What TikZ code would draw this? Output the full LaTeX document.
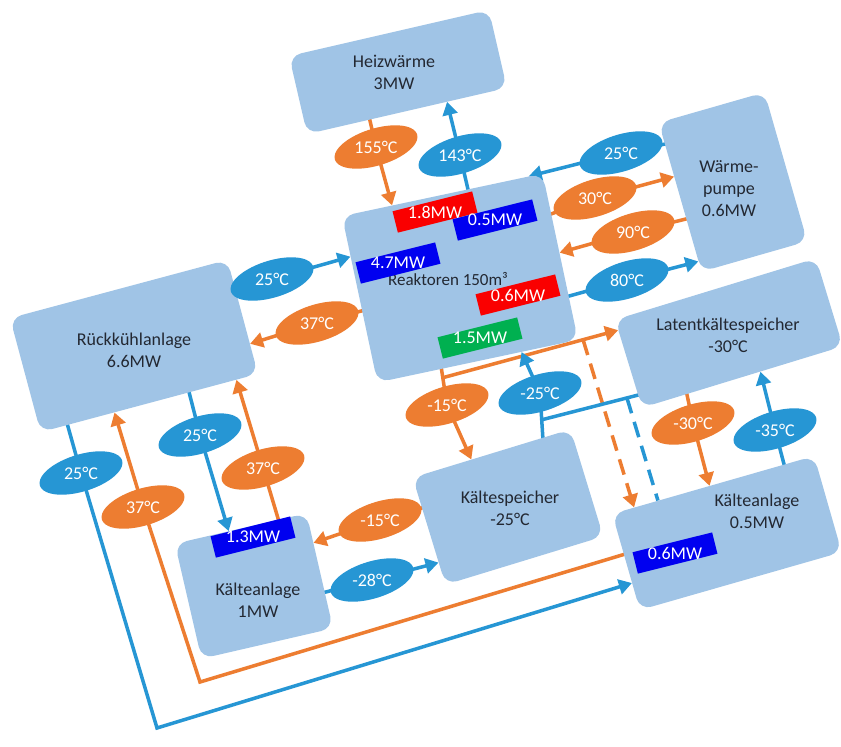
\documentclass[tikz,border=0pt]{standalone}
\usepackage{fontspec}
\setmainfont{Carlito}
\usetikzlibrary{arrows.meta,calc,shapes.geometric}
\definecolor{boxblue}{RGB}{160,196,230}
\definecolor{oran}{RGB}{237,125,49}
\definecolor{cblue}{RGB}{38,150,212}
\definecolor{rblue}{RGB}{0,0,240}
\definecolor{rred}{RGB}{250,0,0}
\definecolor{rgreen}{RGB}{0,176,80}
\definecolor{txt}{RGB}{35,40,50}
\pgfdeclarelayer{bg}
\pgfdeclarelayer{lines}
\pgfsetlayers{bg,lines,main}
\tikzset{
  box/.style={rectangle, rounded corners=12pt, fill=boxblue, text=txt, align=center,
    font=\fontsize{18}{22}\selectfont, inner sep=0pt},
  boxtext/.style={text=txt, align=center, font=\fontsize{18}{22}\selectfont, inner sep=0pt},
  temptext/.style={inner sep=0pt, text=white, font=\fontsize{18}{20}\selectfont},
  pwtext/.style={inner sep=0pt, text=white, font=\fontsize{18}{20}\selectfont},
  oline/.style={draw=oran, line width=3.5pt, -{Triangle[length=13pt,width=15pt]}},
  bline/.style={draw=cblue, line width=3.5pt, -{Triangle[length=13pt,width=15pt]}},
  oplain/.style={draw=oran, line width=3.5pt},
  bplain/.style={draw=cblue, line width=3.5pt},
  dashline/.style={dash pattern=on 16pt off 9pt},
}
% tilted ellipse drawn from computed points, with its text node
\newcommand\tempell[5]{%
  \fill[#4] plot[smooth cycle, samples=40, domain=0:351, variable=\ang]
    ({#2+43*cos(\ang)*cos(17)-18.5*sin(\ang)*sin(17)},
     {#3-43*cos(\ang)*sin(17)-18.5*sin(\ang)*cos(17)});
  \node[temptext] (#1) at (#2,#3) {#5};
}
% tilted power label rectangle, with its text node
\newcommand\pwlabel[5]{%
  \fill[#4] ($(#2,#3)+(-14:41)+(-104:11)$) -- ($(#2,#3)+(-14:41)+(76:11)$)
    -- ($(#2,#3)+(166:41)+(76:11)$) -- ($(#2,#3)+(166:41)+(-104:11)$) -- cycle;
  \node[pwtext] (#1) at (#2,#3) {#5};
}
\begin{document}
\begin{tikzpicture}[x=1pt,y=-1pt]
\begin{pgfonlayer}{bg}
\fill[white] (0,0) rectangle (841,747);
\end{pgfonlayer}
\useasboundingbox (0,0) rectangle (841,747);

% boxes
\node[box, minimum width=205pt, minimum height=80pt, rotate=13] (heiz) at (398,72) {};
\node[box, minimum width=205pt, minimum height=170pt, rotate=12] (reak) at (460,278) {};
\node[box, minimum width=110pt, minimum height=155pt, rotate=16] (wp) at (733,182) {};
\node[box, minimum width=210pt, minimum height=92pt, rotate=17] (lat) at (729,333) {};
\node[box, minimum width=225pt, minimum height=118pt, rotate=15] (rueck) at (134,346) {};
\node[box, minimum width=165pt, minimum height=112pt, rotate=17] (ksp) at (508,507) {};
\node[box, minimum width=210pt, minimum height=100pt, rotate=16] (ka05) at (727,533) {};
\node[box, minimum width=135pt, minimum height=118pt, rotate=13] (ka1) at (254,586) {};

% box texts
\node[boxtext] (heiztxt) at (394,72) {Heizwärme\\3MW};
\node[boxtext, font=\fontsize{17}{20}\selectfont] (reaktxt) at (448,279) {Reaktoren 150m³};
\node[boxtext] (wptxt) at (729,189) {Wärme-\\pumpe\\0.6MW};
\node[boxtext] (lattxt) at (728,335) {Latentkältespeicher\\-30°C};
\node[boxtext] (ruecktxt) at (134,350) {Rückkühlanlage\\6.6MW};
\node[boxtext] (ksptxt) at (510,508) {Kältespeicher\\-25°C};
\node[boxtext] (ka05txt) at (757,511) {Kälteanlage\\0.5MW};
\node[boxtext] (ka1txt) at (258,600) {Kälteanlage\\1MW};

% power labels
\pwlabel{p18}{435}{212}{rred}{1.8MW}
\pwlabel{p05}{495}{220}{rblue}{0.5MW}
\pwlabel{p47}{398}{263}{rblue}{4.7MW}
\pwlabel{p06}{518}{295}{rred}{0.6MW}
\pwlabel{p15}{480}{338}{rgreen}{1.5MW}
\pwlabel{p13}{253}{537}{rblue}{1.3MW}
\pwlabel{p06b}{675}{553}{rblue}{0.6MW}

% temperature ellipses
\tempell{e155}{376}{147}{oran}{155°C}
\tempell{e143}{460}{155}{cblue}{143°C}
\tempell{e25a}{621}{153}{cblue}{25°C}
\tempell{e30}{595}{198}{oran}{30°C}
\tempell{e90}{633}{232}{oran}{90°C}
\tempell{e80}{627}{280}{cblue}{80°C}
\tempell{e25b}{272}{279}{cblue}{25°C}
\tempell{e37a}{317}{323}{oran}{37°C}
\tempell{e25m}{200}{435}{cblue}{25°C}
\tempell{e37m}{263}{468}{oran}{37°C}
\tempell{e25l}{81}{473}{cblue}{25°C}
\tempell{e37l}{143}{507}{oran}{37°C}
\tempell{e15k}{380}{520}{oran}{-15°C}
\tempell{e28}{372}{580}{cblue}{-28°C}
\tempell{e15r}{447}{405}{oran}{-15°C}
\tempell{e25k}{540}{393}{cblue}{-25°C}
\tempell{e30l}{693}{423}{oran}{-30°C}
\tempell{e35}{775}{430}{cblue}{-35°C}

% attachment points
\coordinate (T1) at ($(reak.north west)!0.25!(reak.north east)$);
\coordinate (T2) at ($(heiz.south west)!0.70!(heiz.south east)$);
\coordinate (T3) at ($(reak.north west)!0.93!(reak.north east)$);
\coordinate (T4) at ($(wp.north west)!0.362!(wp.south west)$);
\coordinate (T5) at ($(reak.north east)!0.476!(reak.south east)$);
\coordinate (T6) at ($(wp.north west)!0.93!(wp.south west)$);
\coordinate (T7) at ($(reak.north west)!0.244!(reak.south west)$);
\coordinate (T8) at ($(rueck.north east)!0.736!(rueck.south east)$);
\coordinate (T9) at ($(rueck.south west)!0.34!(rueck.south east)$);
\coordinate (T10) at ($(ka1.north west)!0.409!(ka1.north east)$);
\coordinate (T11) at ($(rueck.south west)!0.90!(rueck.south east)$);
\coordinate (T12) at ($(ka1.north east)!0.258!(ka1.south east)$);
\coordinate (T13) at ($(ksp.north west)!0.792!(ksp.south west)$);
\coordinate (T14) at ($(lat.north west)!0.12!(lat.south west)$);
\coordinate (T15) at ($(ksp.north west)!0.372!(ksp.north east)$);
\coordinate (T16) at ($(reak.south west)!0.718!(reak.south east)$);
\coordinate (T17) at ($(ka05.north west)!0.109!(ka05.north east)$);
\coordinate (T17b) at ($(ka05.north west)!0.227!(ka05.north east)$);
\coordinate (T18) at ($(ka05.north west)!0.482!(ka05.north east)$);
\coordinate (T19) at ($(lat.south west)!0.589!(lat.south east)$);
\coordinate (T20) at ($(ka05.north west)!0.718!(ka05.south west)$);

\coordinate (S1) at (368,112);
\coordinate (S2) at (470,198);
\coordinate (S3) at (680,141);
\coordinate (S4) at (540,218);
\coordinate (S5) at (690,218);
\coordinate (S6) at (562,298);
\coordinate (S7) at (228,292);
\coordinate (S8) at (365,310);
\coordinate (S9) at (188,388);
\coordinate (S10) at (280,525);
\coordinate (S11) at (432,505);
\coordinate (S12) at (322,593);
\coordinate (S13) at (441,366);
\coordinate (S14) at (543,440);
\coordinate (S15) at (650,392);
\coordinate (S16) at (686,390);
\coordinate (S17) at (785,468);
\coordinate (S18) at (632,552);
\coordinate (S19) at (65,416);
\coordinate (C1) at (200,682);
\coordinate (C2) at (157,728);
\coordinate (J1) at ($(S13)!0.3!(e15r.center)$);
\coordinate (J2) at ($(S14)!0.43!(e25k.center)$);
\coordinate (D1) at ($(J1)!0.8!(T14)$);
\coordinate (D2) at ($(J2)!0.787!(S15)$);

\begin{pgfonlayer}{lines}
\draw[oline] (S1) -- (e155.center) -- (T1);
\draw[bline] (S2) -- (e143.center) -- (T2);
\draw[bline] (S3) -- (e25a.center) -- (T3);
\draw[oline] (S4) -- (e30.center) -- (T4);
\draw[oline] (S5) -- (e90.center) -- (T5);
\draw[bline] (S6) -- (e80.center) -- (T6);
\draw[bline] (S7) -- (e25b.center) -- (T7);
\draw[oline] (S8) -- (e37a.center) -- (T8);
\draw[bline] (S9) -- (e25m.center) -- (T10);
\draw[oline] (S10) -- (e37m.center) -- (T11);
\draw[oline] (S11) -- (e15k.center) -- (T12);
\draw[bline] (S12) -- (e28.center) -- (T13);
\draw[oline] (S13) -- (e15r.center) -- (T15);
\draw[oline] (J1) -- (T14);
\draw[oline, dashline] (D1) -- (T17);
\draw[bline] (S14) -- (e25k.center) -- (T16);
\draw[bplain] (S15) -- (J2);
\draw[bplain, dashline] (D2) -- (T17b);
\draw[oline] (S16) -- (e30l.center) -- (T18);
\draw[bline] (S17) -- (e35.center) -- (T19);
\draw[oline] (S18) -- (C1) -- (e37l.center) -- (T9);
\draw[bline] (S19) -- (e25l.center) -- (C2) -- (T20);
\end{pgfonlayer}
\end{tikzpicture}
\end{document}
